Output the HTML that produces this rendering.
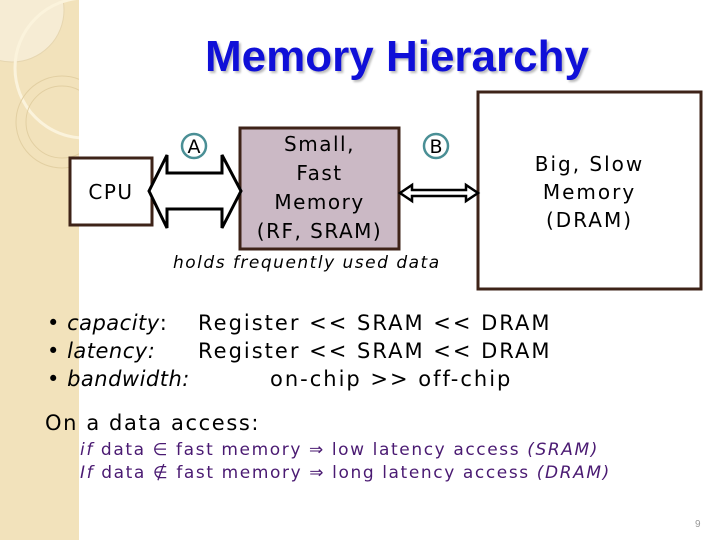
<!DOCTYPE html>
<html><head><style>
body{margin:0;width:720px;height:540px;overflow:hidden;background:#fff;position:relative;font-family:"DejaVu Sans","Liberation Sans",sans-serif}
.a{position:absolute;white-space:nowrap}
</style></head><body>
<svg class="a" style="left:0;top:0" width="720" height="540">
<defs><clipPath id="c"><rect x="0" y="0" width="79" height="540"/></clipPath></defs>
<rect x="0" y="0" width="79" height="540" fill="#f2e2bb"/>
<g clip-path="url(#c)" fill="none">
<circle cx="12" cy="10" r="52" fill="#f6ecd4" stroke="#e6d6b0"/>
<circle cx="85" cy="68" r="70" stroke="#fbf3dc" stroke-width="3"/>
<circle cx="62" cy="122" r="46" stroke="#e2cfa2"/>
<circle cx="62" cy="122" r="36" stroke="#e2cfa2"/>
</g>
<rect x="70" y="158" width="82" height="67" fill="#fff" stroke="#3e2318" stroke-width="3"/>
<rect x="240" y="128" width="159" height="121" fill="#cbb9c5" stroke="#3e2318" stroke-width="3"/>
<rect x="478" y="92" width="223" height="197" fill="#fff" stroke="#3e2318" stroke-width="3"/>
<polygon points="149,191 167,155 167,173 222,173 222,155 241,191 222,228 222,209 167,209 167,228" fill="#fff" stroke="#000" stroke-width="3"/>
<polygon points="400,193 412,185 412,190 466,190 466,185 478,193 466,201 466,196 412,196 412,201" fill="#fff" stroke="#000" stroke-width="2.5"/>
<circle cx="194" cy="146" r="12" fill="#fff" stroke="#4a8f95" stroke-width="2.5"/>
<circle cx="436" cy="146" r="12" fill="#fff" stroke="#4a8f95" stroke-width="2.5"/>
<text x="194" y="153" font-size="19" text-anchor="middle" font-family="DejaVu Sans">A</text>
<text x="436" y="153" font-size="19" text-anchor="middle" font-family="DejaVu Sans">B</text>
<text x="695" y="527" font-size="10" fill="#999" font-family="Liberation Sans">9</text>
</svg>
<div class="a" style="left:0;width:794px;top:32px;text-align:center;font:bold 44px 'Liberation Sans',sans-serif;color:#1010d8;text-shadow:2px 2px 2px #bbb">Memory Hierarchy</div>
<div class="a" style="left:70px;width:82px;top:180px;text-align:center;font-size:20px;letter-spacing:1.5px">CPU</div>
<div class="a" style="left:240px;width:159px;top:130px;text-align:center;font-size:20px;line-height:29px;letter-spacing:1.5px">Small,<br>Fast<br>Memory<br>(RF, SRAM)</div>
<div class="a" style="left:478px;width:223px;top:150px;text-align:center;font-size:20px;line-height:28px;letter-spacing:2px">Big, Slow<br>Memory<br>(DRAM)</div>
<div class="a" style="left:173px;top:253px;font-size:17px;font-style:italic;letter-spacing:1.5px">holds frequently used data</div>
<div class="a" style="left:47px;top:309px;font-size:21px;line-height:28px;letter-spacing:0.5px">• <i>capacity</i>:<br>• <i>latency:</i><br>• <i>bandwidth:</i></div>
<div class="a" style="left:198px;top:309px;font-size:21px;line-height:28px;letter-spacing:2px">Register &lt;&lt; SRAM &lt;&lt; DRAM<br>Register &lt;&lt; SRAM &lt;&lt; DRAM<br><span style="margin-left:72px">on-chip &gt;&gt; off-chip</span></div>
<div class="a" style="left:45px;top:411px;font-size:21px;letter-spacing:1.6px">On a data access:</div>
<div class="a" style="left:80px;top:439px;font-size:17px;line-height:23px;color:#4a1a72;letter-spacing:1.6px"><i>if</i> data ∈ fast memory ⇒ low latency access <i>(SRAM)</i><br><i>If</i> data ∉ fast memory ⇒ long latency access <i>(DRAM)</i></div>
</body></html>
